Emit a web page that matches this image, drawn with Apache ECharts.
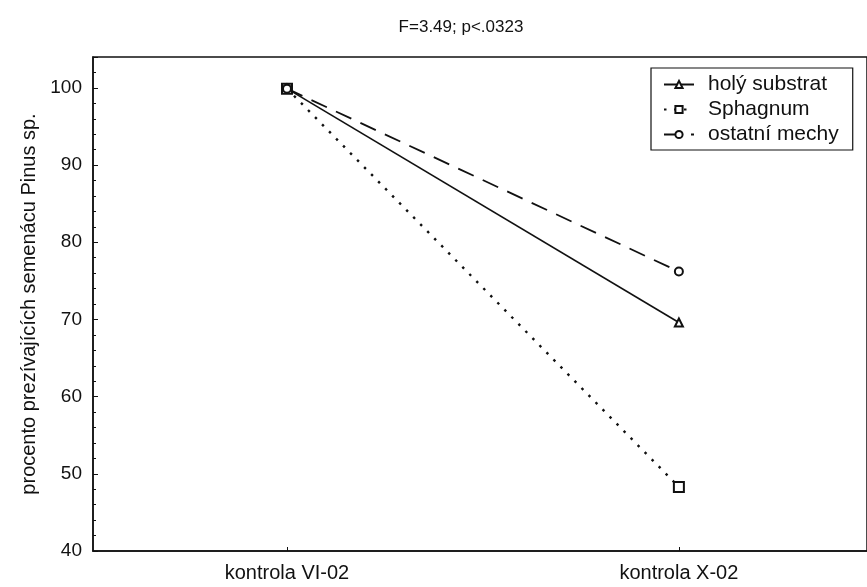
<!DOCTYPE html>
<html>
<head>
<meta charset="utf-8">
<script src="https://cdn.jsdelivr.net/npm/echarts@6/dist/echarts.min.js"></script>
<style>
  html, body { margin: 0; padding: 0; background: #fff; }
  #chart { width: 867px; height: 587px; }
</style>
</head>
<body>
<div id="chart"></div>
<script>
// kategorie na ose x
const categories = ['kontrola VI-02', 'kontrola X-02'];
// hodnoty
const holySubstrat = [99.9, 69.6];
const sphagnum = [99.9, 48.3];
const ostatniMechy = [99.9, 76.2];
const seriesNames = ['holý substrat', 'Sphagnum', 'ostatní mechy'];

const font = 'Liberation Sans, Arial, sans-serif';
const ink = '#111';

// poradi kategorie -> x souradnice
function toPoints(values) {
  return values.map(function (v, i) { return [i, v]; });
}

const chart = echarts.init(document.getElementById('chart'));

chart.setOption({
  backgroundColor: '#fff',
  animation: false,
  title: {
    text: 'F=3.49; p<.0323',
    left: 456,
    top: 14,
    textAlign: 'center',
    textStyle: { fontFamily: font, fontSize: 17, fontWeight: 'normal', color: ink }
  },
  legend: {
    orient: 'vertical',
    left: 651,
    top: 68,
    data: seriesNames,
    borderColor: ink,
    borderWidth: 1.2,
    padding: [6, 14, 5, 12],
    itemWidth: 30,
    itemHeight: 9,
    itemGap: 4,
    textStyle: { fontFamily: font, fontSize: 21, color: ink, padding: [0, 0, 0, 9] }
  },
  grid: {
    left: 93,
    top: 57,
    right: 0,
    bottom: 36,
    show: true,
    borderColor: ink,
    borderWidth: 1.5
  },
  xAxis: {
    type: 'value',
    min: -0.495,
    max: 1.48,
    splitLine: { show: false },
    axisLine: { onZero: false, lineStyle: { color: ink, width: 1.5 } },
    axisTick: { inside: true, length: 4, customValues: [0, 1], lineStyle: { color: ink } },
    axisLabel: {
      fontFamily: font, fontSize: 20, color: ink, margin: 12,
      customValues: [0, 1],
      formatter: function (v) { return categories[Math.round(v)]; }
    }
  },
  yAxis: {
    type: 'value',
    min: 40,
    max: 104,
    interval: 10,
    name: 'procento prezívajících semenácu Pinus sp.',
    nameLocation: 'middle',
    nameGap: 50,
    nameTextStyle: { fontFamily: font, fontSize: 20, color: ink },
    axisLine: { show: true, onZero: false, lineStyle: { color: ink, width: 1.5 } },
    axisTick: { show: true, inside: true, length: 5, lineStyle: { color: ink } },
    minorTick: { show: true, splitNumber: 5, length: 3, lineStyle: { color: ink } },
    splitLine: { show: false },
    axisLabel: {
      fontFamily: font, fontSize: 19, color: ink, margin: 11,
      formatter: function (v) { return v % 10 === 0 ? v : ''; }
    }
  },
  series: [
    {
      name: seriesNames[0],
      type: 'line',
      data: toPoints(holySubstrat),
      symbol: 'emptyTriangle',
      symbolSize: 8,
      lineStyle: { color: ink, width: 1.6, type: 'solid' },
      itemStyle: { color: ink, borderWidth: 1.8 }
    },
    {
      name: seriesNames[1],
      type: 'line',
      data: toPoints(sphagnum),
      symbol: 'emptyRect',
      symbolSize: 10,
      lineStyle: { color: ink, width: 2.4, type: [2.5, 7.5] },
      itemStyle: { color: ink, borderWidth: 2 }
    },
    {
      name: seriesNames[2],
      type: 'line',
      data: toPoints(ostatniMechy),
      symbol: 'emptyCircle',
      symbolSize: 8,
      lineStyle: { color: ink, width: 1.8, type: [17, 10] },
      itemStyle: { color: ink, borderWidth: 1.8 }
    }
  ]
});
</script>
</body>
</html>
